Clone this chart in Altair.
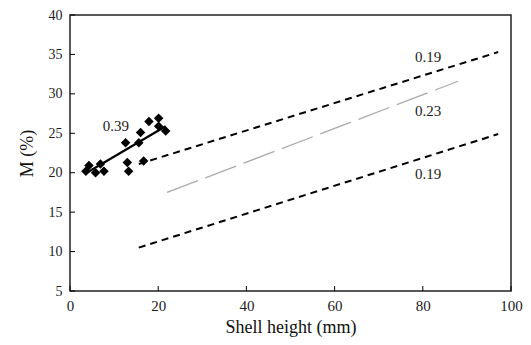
import altair as alt
import pandas as pd

# Observed points
pts_x = [3.6, 4.3, 5.8, 6.9, 7.7, 12.6, 13.0, 13.3, 15.6, 16.0, 16.7, 17.9, 20.1, 20.1, 21.7]
pts_y = [20.2, 20.9, 20.0, 21.1, 20.2, 23.8, 21.3, 20.2, 23.8, 25.1, 21.5, 26.5, 26.9, 25.9, 25.3]

# Fitted / reference lines (endpoints)
fit_x = [3.5, 21.7]
fit_y = [19.9, 25.9]
up_x = [15.6, 97.1]
up_y = [21.1, 35.3]
mid_x = [22.0, 88.0]
mid_y = [17.5, 31.6]
low_x = [15.6, 97.1]
low_y = [10.5, 24.9]

# Annotations
lab_text = ["0.39", "0.19", "0.23", "0.19"]
lab_x = [10.4, 81.2, 81.2, 81.2]
lab_y = [25.9, 34.7, 27.8, 19.9]

x_ticks = [0, 20, 40, 60, 80, 100]
y_ticks = [5, 10, 15, 20, 25, 30, 35, 40]

FONT = "Liberation Serif"

xs = alt.Scale(domain=[0, 100], nice=False, zero=False)
ys = alt.Scale(domain=[5, 40], nice=False, zero=False)

x_axis = alt.Axis(values=x_ticks, title="Shell height (mm)", tickSize=0,
                  labelPadding=7, titlePadding=5, grid=False, domain=False,
                  labelOverlap=False, labelFlush=False, labelBound=False,
                  labelFont=FONT, titleFont=FONT, labelFontSize=15,
                  titleFontSize=18, titleFontWeight="normal",
                  labelColor="#222", titleColor="#111")
y_axis = alt.Axis(values=y_ticks, title="M (%)", tickSize=0,
                  labelPadding=8, titlePadding=12, grid=False, domain=False,
                  labelOverlap=False, labelFlush=False, labelBound=False,
                  labelFont=FONT, titleFont=FONT, labelFontSize=14,
                  titleFontSize=18, titleFontWeight="normal",
                  labelColor="#222", titleColor="#111")

XA = lambda: alt.X("x:Q", scale=xs, axis=x_axis)
YA = lambda: alt.Y("y:Q", scale=ys, axis=y_axis)

pts = pd.DataFrame({"x": pts_x, "y": pts_y})
points = alt.Chart(pts).mark_point(shape="diamond", filled=True, color="black",
                                   size=90, opacity=1).encode(x=XA(), y=YA())

def seg(xv, yv, **kw):
    return alt.Chart(pd.DataFrame({"x": xv, "y": yv})).mark_line(**kw).encode(
        x=XA(), y=YA())

fit = seg(fit_x, fit_y, color="black", strokeWidth=2.2)
up = seg(up_x, up_y, color="black", strokeWidth=2, strokeDash=[7, 5])
mid = seg(mid_x, mid_y, color="#aaaaaa", strokeWidth=1.3, strokeDash=[33, 8])
low = seg(low_x, low_y, color="black", strokeWidth=2, strokeDash=[7, 5])

labs = alt.Chart(pd.DataFrame({"x": lab_x, "y": lab_y, "t": lab_text})).mark_text(
    font=FONT, fontSize=15, color="#222").encode(x=XA(), y=YA(), text="t:N")

xt = alt.Chart(pd.DataFrame({"x": x_ticks})).mark_rule(color="black", strokeWidth=1).encode(
    x=XA(), y=alt.value(276), y2=alt.value(271))
yt = alt.Chart(pd.DataFrame({"y": y_ticks})).mark_rule(color="black", strokeWidth=1).encode(
    y=YA(), x=alt.value(0), x2=alt.value(5))

chart = alt.layer(points, fit, up, mid, low, labs, xt, yt).properties(
    width=441, height=276,
    autosize="none",
    padding={"left": 62, "top": 7, "right": 12, "bottom": 50},
    background="white",
).configure_view(stroke="#222", strokeWidth=1.5).configure_axis(labelOverlap=False)

chart.save("out.html", embed_options={"renderer": "svg", "actions": False})
